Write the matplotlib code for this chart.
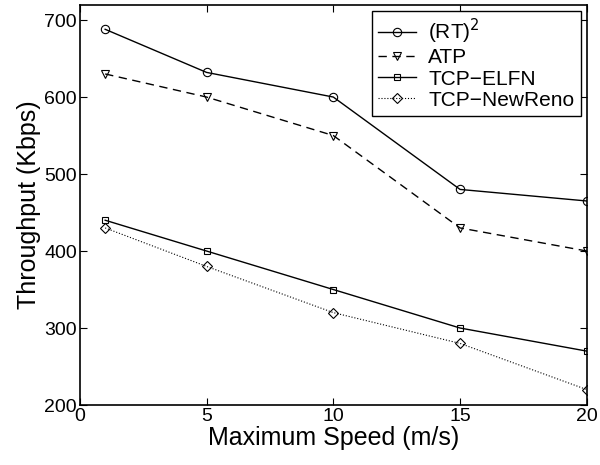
import matplotlib
matplotlib.use('Agg')
import matplotlib.pyplot as plt

speed = [1, 5, 10, 15, 20]
rt2 = [688, 632, 600, 480, 465]
atp = [630, 600, 550, 430, 400]
elfn = [440, 400, 350, 300, 270]
newreno = [430, 380, 320, 280, 220]

plt.rcParams['font.family'] = ['Liberation Sans', 'DejaVu Sans']

fig = plt.figure(figsize=(6, 4.65), dpi=100)
ax = fig.add_axes([0.133, 0.129, 0.845, 0.861])

ax.plot(speed, rt2, '-', color='k', lw=1, marker='o', ms=6, mfc='none', mew=0.8, label='(RT)$^2$')
ax.plot(speed, atp, '--', color='k', lw=1, marker='v', ms=6, mfc='none', mew=0.8, label='ATP', dashes=(6, 4))
ax.plot(speed, elfn, '-', color='k', lw=1, marker='s', ms=5, mfc='none', mew=0.8, label='TCP\u2212ELFN')
ax.plot(speed, newreno, ':', color='k', lw=0.8, marker='D', ms=5, mfc='none', mew=0.8, label='TCP\u2212NewReno')

ax.set_xlim(0, 20)
ax.set_ylim(200, 720)
ax.set_xticks([0, 5, 10, 15, 20])
ax.set_yticks([200, 300, 400, 500, 600, 700])
ax.tick_params(direction='in', top=True, right=True, labelsize=14, length=5, width=0.8, pad=2)
for s in ax.spines.values():
    s.set_linewidth(1.2)

ax.set_xlabel('Maximum Speed (m/s)', fontsize=18, labelpad=1)
ax.set_ylabel('Throughput (Kbps)', fontsize=18, labelpad=2)

leg = ax.legend(loc='upper right', fontsize=15, frameon=True, fancybox=False,
                edgecolor='k', framealpha=1, borderpad=0.3, labelspacing=0.1,
                handlelength=1.8, handletextpad=0.6, borderaxespad=0.3)
leg.get_frame().set_linewidth(1.0)

fig.savefig('out.png', dpi=100)
